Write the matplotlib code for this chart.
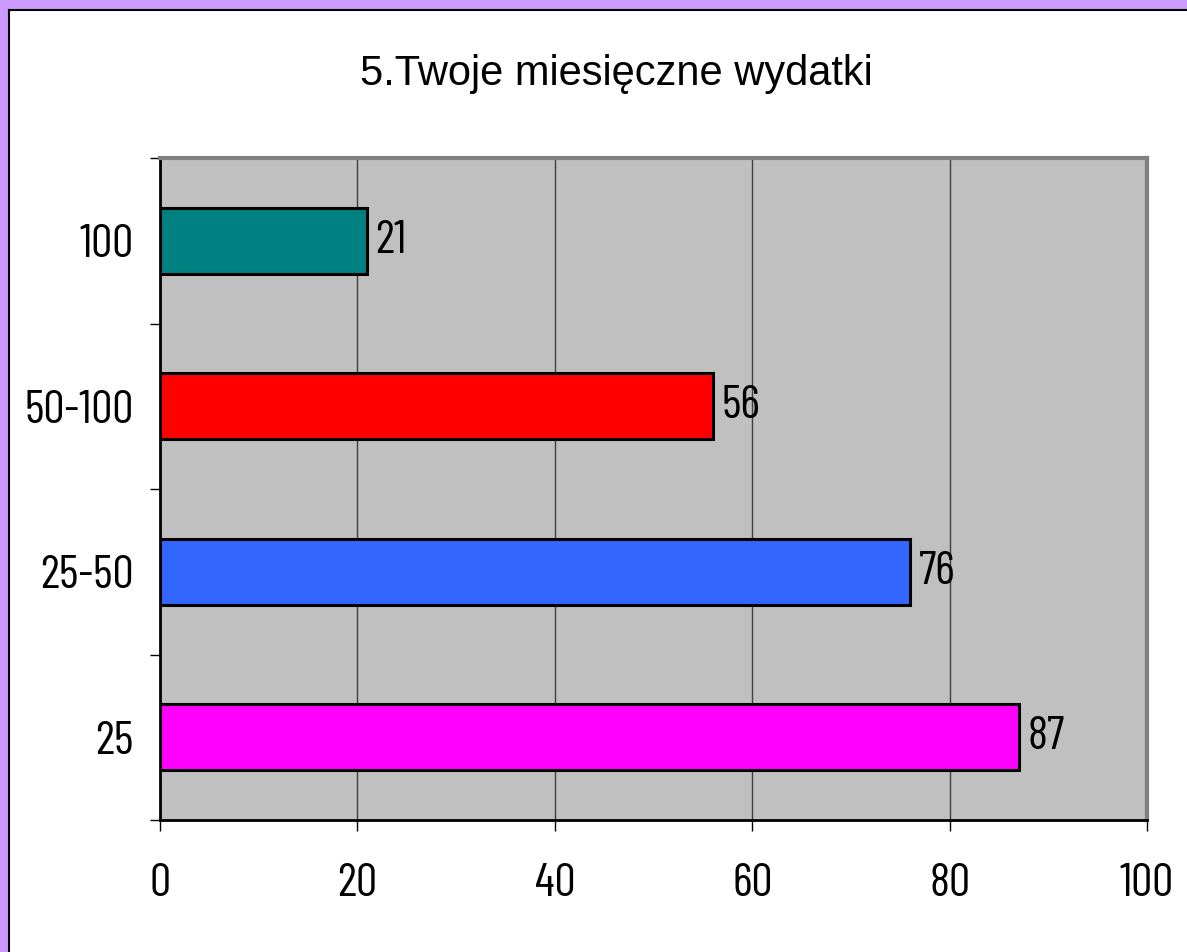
import numpy as np
import matplotlib.pyplot as plt
from matplotlib.patches import Rectangle

# Dane wykresu
kategorie = ["25", "25-50", "50-100", "100"]
wartosci = [87, 76, 56, 21]
kolory = ["#FF00FF", "#3366FF", "#FF0000", "#008080"]
x_ticks = [0, 20, 40, 60, 80, 100]

W, H = 1187, 952
fig = plt.figure(figsize=(W / 100, H / 100), dpi=100)
fig.patch.set_facecolor("white")

# Fioletowa ramka (gora i lewa strona) + czarna linia
fig.patches.append(Rectangle((0, 1 - 9 / H), 1, 9 / H, transform=fig.transFigure,
                             facecolor="#CC99FF", edgecolor="none", zorder=0))
fig.patches.append(Rectangle((0, 0), 8 / W, 1, transform=fig.transFigure,
                             facecolor="#CC99FF", edgecolor="none", zorder=0))
fig.add_artist(plt.Line2D([8.5 / W, 1], [1 - 10 / H, 1 - 10 / H], color="black", lw=1.5,
                          transform=fig.transFigure))
fig.add_artist(plt.Line2D([9 / W, 9 / W], [0, 1 - 9.5 / H], color="black", lw=1.5,
                          transform=fig.transFigure))

liczby = ["Barlow Condensed", "DejaVu Sans"]
rozmiar = 34

ax = fig.add_axes([160 / W, 1 - 820 / H, (1147 - 160) / W, (820 - 158) / H])
ax.set_facecolor("#C0C0C0")

y = np.arange(len(kategorie))
ax.barh(y, wartosci, height=0.4, color=kolory, edgecolor="black", linewidth=2.2, zorder=3)

for yi, v in zip(y, wartosci):
    ax.annotate(str(v), (v, yi), xytext=(6, 0), textcoords="offset points",
                va="center", ha="left", fontsize=rozmiar, family=liczby, zorder=4)

ax.set_xlim(0, 100)
ax.set_ylim(-0.5, len(kategorie) - 0.5)
ax.set_xticks(x_ticks)
ax.set_xticklabels([str(t) for t in x_ticks], family=liczby, fontsize=rozmiar)
ax.xaxis.grid(True, color="#404040", lw=1, zorder=1)

ax.set_yticks(np.arange(-0.5, len(kategorie), 1.0))
ax.set_yticklabels([])
ax.set_yticks(y, minor=True)
ax.set_yticklabels(kategorie, minor=True, family=liczby, fontsize=rozmiar)
ax.tick_params(axis="y", which="major", length=7, width=1, color="black", direction="out")
ax.tick_params(axis="y", which="minor", length=0, pad=19)
ax.tick_params(axis="x", length=8, width=1, color="black", direction="out", pad=23)

ax.spines["left"].set_color("black")
ax.spines["left"].set_linewidth(2)
ax.spines["bottom"].set_color("black")
ax.spines["bottom"].set_linewidth(2)
ax.spines["top"].set_color("#808080")
ax.spines["top"].set_linewidth(3)
ax.spines["right"].set_color("#808080")
ax.spines["right"].set_linewidth(3)

fig.text(616 / W, 1 - 85 / H, "5.Twoje miesięczne wydatki", ha="center", va="baseline",
         fontsize=30, family=["Liberation Sans", "DejaVu Sans"])

fig.savefig("out.png", dpi=100)
